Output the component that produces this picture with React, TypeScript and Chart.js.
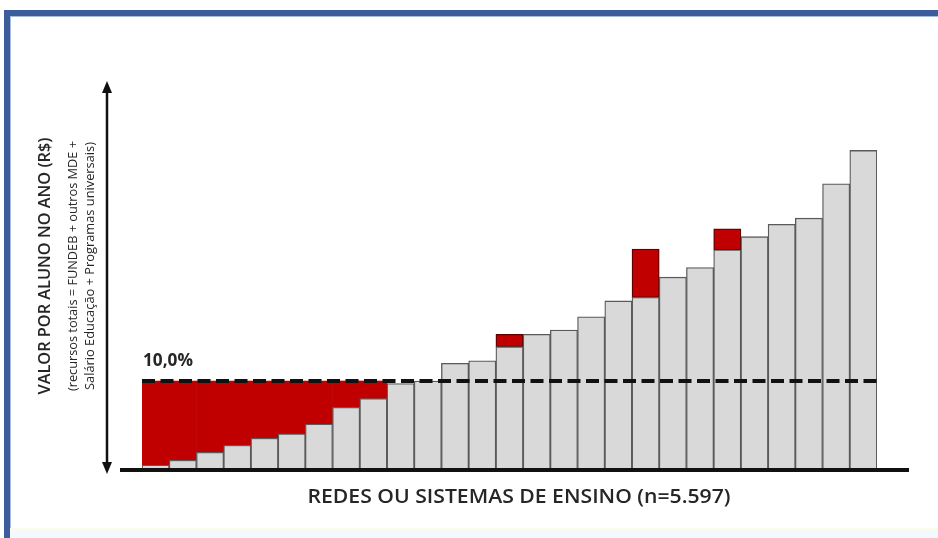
import { useEffect, useRef } from "react";
import { Chart, registerables } from "chart.js";

Chart.register(...registerables);

// ---- data (arbitrary units, threshold line = 10) ----
const categories = [
  "1", "2", "3", "4", "5", "6", "7", "8", "9", "10", "11", "12", "13", "14",
  "15", "16", "17", "18", "19", "20", "21", "22", "23", "24", "25", "26", "27",
];
const baseValues = [
  0.45, 1.0, 1.9, 2.7, 3.5, 4.0, 5.1, 7.0, 8.0, 9.7, 10.0, 12.0, 12.3, 13.9,
  15.3, 15.8, 17.3, 19.1, 19.5, 21.8, 22.9, 24.9, 26.4, 27.8, 28.5, 32.4, 36.2,
];
const topUpValues = [
  9.55, 9.0, 8.1, 7.3, 6.5, 6.0, 4.9, 3.0, 2.0, 0, 0, 0, 0, 1.4,
  0, 0, 0, 0, 5.5, 0, 0, 2.4, 0, 0, 0, 0, 0,
];
const thresholdValue = 10;
const thresholdLabel = "10,0%";
const xTitle = "REDES OU SISTEMAS DE ENSINO (n=5.597)";
const yTitleLines = [
  "VALOR POR ALUNO NO ANO (R$)",
  "(recursos totais = FUNDEB + outros MDE +",
  "Salário Educação + Programas universais)",
];

const FAMILY = '"Open Sans", "Liberation Sans", sans-serif';

// draw text at a given font size, squeezed horizontally to a target width
function drawFitted(
  ctx: CanvasRenderingContext2D,
  text: string,
  weight: string,
  size: number,
  width: number,
  x: number,
  y: number,
  align: CanvasTextAlign
) {
  ctx.save();
  ctx.font = `${weight} ${size}px ${FAMILY}`;
  const w = ctx.measureText(text).width;
  const sx = width / w;
  ctx.translate(x, y);
  ctx.scale(sx, 1);
  ctx.textAlign = align;
  ctx.textBaseline = "alphabetic";
  ctx.fillText(text, 0, 0);
  ctx.restore();
}

const decorPlugin = {
  id: "decor",
  beforeDraw(chart: any) {
    const ctx: CanvasRenderingContext2D = chart.ctx;
    const W = chart.width;
    const H = chart.height;
    ctx.save();
    ctx.fillStyle = "#ffffff";
    ctx.fillRect(0, 0, W, H);
    // frame
    ctx.fillStyle = "#3d5c9c";
    ctx.fillRect(4, 10, W - 4, 6);
    ctx.fillRect(4, 10, 6, H - 10);
    ctx.fillStyle = "#a9bbdc";
    ctx.fillRect(10, 16, W - 10, 1);
    ctx.fillRect(10, 16, 1, H - 16);
    ctx.fillStyle = "#fdfbe8";
    ctx.fillRect(10, 528, W - 10, 2);
    ctx.fillStyle = "#f1f9fc";
    ctx.fillRect(10, 530, W - 10, H - 530);
    ctx.restore();
  },
  afterDatasetsDraw(chart: any) {
    const ctx: CanvasRenderingContext2D = chart.ctx;
    const area = chart.chartArea;
    const yScale = chart.scales.y;
    const yT = yScale.getPixelForValue(thresholdValue);
    ctx.save();
    // dashed threshold line
    ctx.strokeStyle = "#111111";
    ctx.lineWidth = 4;
    ctx.setLineDash([13, 5.5]);
    ctx.beginPath();
    ctx.moveTo(area.left, yT);
    ctx.lineTo(area.right + 5, yT);
    ctx.stroke();
    ctx.setLineDash([]);

    // baseline
    const y0 = yScale.getPixelForValue(0);
    ctx.fillStyle = "#111111";
    ctx.fillRect(120, y0 - 1, 789, 4);

    // vertical double arrow
    const ax = 107;
    const topTip = 81;
    const botTip = 474;
    ctx.strokeStyle = "#111111";
    ctx.lineWidth = 2.5;
    ctx.beginPath();
    ctx.moveTo(ax, topTip + 8);
    ctx.lineTo(ax, botTip - 8);
    ctx.stroke();
    ctx.beginPath();
    ctx.moveTo(ax, topTip);
    ctx.lineTo(ax - 5, topTip + 12);
    ctx.lineTo(ax + 5, topTip + 12);
    ctx.closePath();
    ctx.fill();
    ctx.beginPath();
    ctx.moveTo(ax, botTip);
    ctx.lineTo(ax - 5, botTip - 12);
    ctx.lineTo(ax + 5, botTip - 12);
    ctx.closePath();
    ctx.fill();

    // threshold label
    ctx.fillStyle = "#262626";
    drawFitted(ctx, thresholdLabel, "700", 17, 50, area.left + 1, yT - 15, "left");

    // x title
    drawFitted(ctx, xTitle, "600", 20, 423, 519, 503, "center");

    // y titles (rotated), baseline positions on x
    const cols = [50, 77, 94];
    const widths = [257, 250, 248];
    const sizes = [15.5, 13.5, 13.5];
    const weights = ["600", "400", "400"];
    yTitleLines.forEach((line, i) => {
      ctx.save();
      ctx.translate(cols[i], 266);
      ctx.rotate(-Math.PI / 2);
      drawFitted(ctx, line, weights[i], sizes[i], widths[i], 0, 0, "center");
      ctx.restore();
    });
    ctx.restore();
  },
};

export default function App() {
  const canvasRef = useRef<HTMLCanvasElement | null>(null);

  useEffect(() => {
    const canvas = canvasRef.current;
    if (!canvas) return;
    const chart = new Chart(canvas, {
      type: "bar",
      data: {
        labels: categories,
        datasets: [
          {
            label: "Valor por aluno",
            data: baseValues,
            backgroundColor: "#d9d9d9",
            borderColor: "#5a5a5a",
            borderWidth: 1.3,
            borderSkipped: "bottom",
            categoryPercentage: 1,
            barPercentage: 1,
          },
          {
            label: "Complementação",
            data: topUpValues,
            backgroundColor: "#c00000",
            borderColor: "#5e0000",
            borderWidth: (c: any) => (c.dataIndex < 9 ? 0 : 1.3),
            borderSkipped: false,
            categoryPercentage: 1,
            barPercentage: 1,
          },
        ],
      },
      options: {
        responsive: false,
        animation: false,
        layout: { padding: { left: 142, right: 61, top: 117, bottom: 69 } },
        plugins: { legend: { display: false }, tooltip: { enabled: false } },
        scales: {
          x: { stacked: true, display: false, grid: { display: false } },
          y: { stacked: true, display: false, min: 0, max: 40, grid: { display: false } },
        },
      },
      plugins: [decorPlugin],
    } as any);
    return () => chart.destroy();
  }, []);

  return (
    <div style={{ position: "absolute", left: 0, top: 0, width: 938, height: 538 }}>
      <canvas ref={canvasRef} width={938} height={538} style={{ display: "block" }} />
    </div>
  );
}
